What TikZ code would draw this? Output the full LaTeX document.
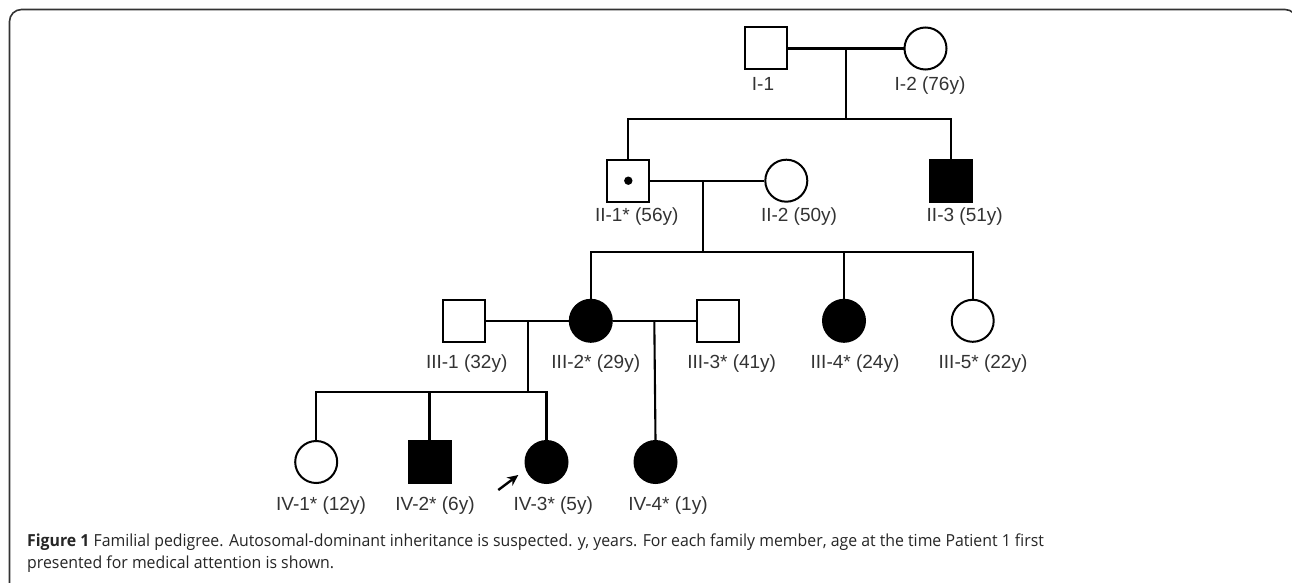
\documentclass[tikz,border=0pt]{standalone}
\usepackage{fontspec}
\setmainfont{Liberation Sans}
\newfontfamily\capfont{Open Sans}
\usetikzlibrary{arrows.meta}
\begin{document}
\begin{tikzpicture}[x=1pt,y=-1pt,
  male/.style={draw,rectangle,line width=2pt,minimum size=42pt,inner sep=0pt},
  female/.style={draw,circle,line width=2pt,minimum size=42pt,inner sep=0pt},
  aff/.style={fill=black},
  lbl/.style={anchor=base,inner sep=0pt,text=black!80,font=\fontsize{19}{22}\selectfont},
  ln/.style={line width=2.1pt},
  captext/.style={anchor=base west,inner sep=0pt,font=\capfont\fontsize{16.6}{20}\selectfont,text=black!85}]
\useasboundingbox (0,0) rectangle (1292,583);
\fill[white] (0,0) rectangle (1292,583);
\draw[line width=1.6pt,black!80,rounded corners=12pt] (9.5,620) -- (9.5,9.5) -- (1297,9.5) -- (1297,620);

% Generation I
\node[male] (I1) at (765.5,48.5) {};
\node[female] (I2) at (925.5,48.5) {};
\coordinate (m1) at (845.7,48.5);
\coordinate (s1) at (845.7,119);
% Generation II
\node[male] (II1) at (628.3,180.7) {};
\fill (II1.center) circle (4.2pt);
\node[female] (II2) at (786.3,180.7) {};
\node[male,aff] (II3) at (951,180.7) {};
\coordinate (m2) at (703.3,180.7);
\coordinate (s2) at (703.3,252);
% Generation III
\node[male] (III1) at (463.7,320.8) {};
\node[female,aff] (III2) at (590.8,320.8) {};
\node[male] (III3) at (718,320.8) {};
\node[female,aff] (III4) at (844,320.8) {};
\node[female] (III5) at (972.7,320.8) {};
\coordinate (m3) at (527.7,320.8);
\coordinate (s3) at (527.7,391.7);
\coordinate (m4) at (654.3,320.8);
% Generation IV
\node[female] (IV1) at (316.2,462) {};
\node[male,aff] (IV2) at (429.5,461.7) {};
\node[female,aff] (IV3) at (546.5,462) {};
\node[female,aff] (IV4) at (655.5,462) {};

% connectors
\draw[ln] (I1.east) -- (I2.west);
\draw[ln] (m1) -- (s1);
\draw[ln] (II1.north) |- (s1) -| (II3.north);
\draw[ln] (II1.east) -- (II2.west);
\draw[ln] (m2) -- (s2);
\draw[ln] (III2.north) |- (s2) -| (III5.north);
\draw[ln] (III4.north) -- (III4.north |- s2);
\draw[ln] (III1.east) -- (III2.west);
\draw[ln] (III2.east) -- (III3.west);
\draw[ln] (m3) -- (s3);
\draw[ln] (IV1.north) |- (s3) -| (IV3.north);
\draw[ln] (IV2.north) -- (IV2.north |- s3);
\draw[ln] (m4) -- (IV4.north);

% proband arrow
\coordinate (pa) at (498.3,490);
\coordinate (pb) at (518.3,475);
\draw[line width=2.4pt,-{Stealth[length=11pt,width=10pt]}] (pa) -- (pb);

% labels
\node[lbl] (lI1) at (763,90.7) {I-1};
\node[lbl] (lI2) at (930,90.7) {I-2 (76y)};
\node[lbl] (lII1) at (636.7,221.7) {II-1* (56y)};
\node[lbl] (lII2) at (799,221.7) {II-2 (50y)};
\node[lbl] (lII3) at (964.7,221.7) {II-3 (51y)};
\node[lbl] (lIII1) at (466.7,368.3) {III-1 (32y)};
\node[lbl] (lIII2) at (595.8,368.3) {III-2* (29y)};
\node[lbl] (lIII3) at (731.7,368.3) {III-3* (41y)};
\node[lbl] (lIII4) at (855,368.3) {III-4* (24y)};
\node[lbl] (lIII5) at (983,368.3) {III-5* (22y)};
\node[lbl] (lIV1) at (321,510.7) {IV-1* (12y)};
\node[lbl] (lIV2) at (435,510.7) {IV-2* (6y)};
\node[lbl] (lIV3) at (553.3,510.7) {IV-3* (5y)};
\node[lbl] (lIV4) at (668,510.7) {IV-4* (1y)};

% caption
\node[captext] (c1) at (27,546.7) {\scalebox{0.955}[1]{\textbf{Figure 1} Familial pedigree. Autosomal-dominant inheritance is suspected. y, years. For each family member, age at the time Patient 1 first}};
\node[captext] (c2) at (27,568) {\scalebox{0.955}[1]{presented for medical attention is shown.}};
\end{tikzpicture}
\end{document}
